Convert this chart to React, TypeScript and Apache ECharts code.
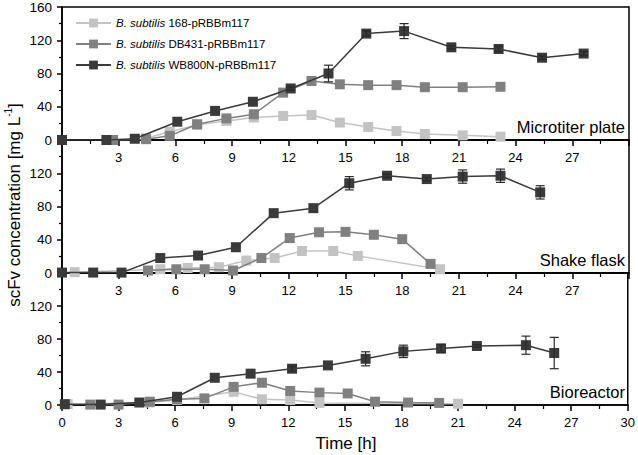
import React, { useEffect, useRef } from "react";
import * as echarts from "echarts";

const strainNames = ["168-pRBBm117", "DB431-pRBBm117", "WB800N-pRBBm117"];
const panelLabels = ["Microtiter plate", "Shake flask", "Bioreactor"];
const xTicks = [0, 3, 6, 9, 12, 15, 18, 21, 24, 27, 30];

// Microtiter plate
const mtp168T = [4.45, 5.7, 7.15, 8.7, 10.15, 11.7, 13.2, 14.7, 16.2, 17.7, 19.2, 21.2, 23.2];
const mtp168V = [2, 10, 18, 23, 27, 29, 30, 21, 15.6, 10.8, 7.2, 5.6, 4];
const mtpDBT = [2.7, 4.45, 5.7, 7.15, 8.7, 10.15, 11.7, 13.2, 14.7, 16.2, 17.7, 19.2, 21.2, 23.2];
const mtpDBV = [0, 1, 5, 19, 26, 31, 57, 71, 67, 66, 66, 63.5, 63.5, 64];
const mtpWBT = [0, 2.35, 3.85, 6.1, 8.1, 10.1, 12.1, 14.1, 16.1, 18.1, 20.6, 23.1, 25.4, 27.6];
const mtpWBV = [0, 0, 1.5, 22, 35, 46, 62, 80, 128, 131, 111.5, 109.5, 99, 104];
const mtpWBErr = [0, 0, 0, 0, 0, 0, 2, 10, 3, 9, 2, 3, 2, 2];

// Shake flask
const sf168T = [0.67, 5.2, 6.65, 8.3, 9.75, 11.25, 12.7, 14.35, 15.65, 20.0];
const sf168V = [1, 4.5, 6, 7, 15, 18, 26.5, 26.5, 20.6, 4.5];
const sfDBT = [4.55, 6.05, 7.55, 9.05, 10.55, 12.05, 13.6, 15.0, 16.5, 18.0, 19.5];
const sfDBV = [3, 4.5, 4.5, 3, 18, 42, 49, 49.5, 46, 40.7, 11];
const sfWBT = [0, 1.65, 3.15, 5.2, 7.2, 9.2, 11.2, 13.3, 15.2, 17.2, 19.3, 21.2, 23.2, 25.3];
const sfWBV = [0.5, 0.5, 0.5, 18, 21, 31, 72, 78, 108, 117, 113, 116, 117, 97];
const sfWBErr = [0, 0, 0, 0, 0, 0, 0, 0, 8, 2, 2, 8, 8, 8];

// Bioreactor
const br168T = [0.3, 4.65, 6.1, 9.1, 10.6, 12.1, 13.65, 21.0];
const br168V = [1, 3, 6, 16, 7, 6, 2.5, 1.5];
const brDBT = [1.5, 3.0, 4.65, 6.1, 7.55, 9.1, 10.6, 12.1, 13.65, 15.15, 16.6, 18.35, 20.0];
const brDBV = [0.5, 0.5, 4, 7, 8, 22, 27, 17, 15, 14, 4, 3, 2.5];
const brWBT = [0.15, 2.05, 4.1, 6.1, 8.1, 10.0, 12.2, 14.1, 16.1, 18.1, 20.1, 22.0, 24.6, 26.1];
const brWBV = [1, 0.5, 3, 10, 33, 38, 44, 48, 56, 65, 68.5, 71.5, 72.5, 63];
const brWBErr = [0, 0, 0, 0, 0, 0, 3, 0, 8.5, 7.5, 5, 1.5, 11, 19];

const colors = ["#c3c3c3", "#808080", "#3a3a3a"];
const FONT = "'Liberation Sans', Arial, sans-serif";

const panels = [
  { series: [[mtp168T, mtp168V], [mtpDBT, mtpDBV], [mtpWBT, mtpWBV]], err: mtpWBErr },
  { series: [[sf168T, sf168V], [sfDBT, sfDBV], [sfWBT, sfWBV]], err: sfWBErr },
  { series: [[br168T, br168V], [brDBT, brDBV], [brWBT, brWBV]], err: brWBErr },
];

const gridTops = [7, 140, 273];
const gridH = [133, 133, 132];

export default function App() {
  const ref = useRef<HTMLDivElement>(null);
  useEffect(() => {
    if (!ref.current) return;
    const chart = echarts.init(ref.current, undefined, { renderer: "svg" });

    const grids = gridTops.map((top, i) => ({
      left: 62,
      width: 567,
      top,
      height: gridH[i],
      show: true,
      borderColor: "#000",
      borderWidth: 1.5,
      backgroundColor: "transparent",
    }));

    const xAxes = gridTops.map((_, i) => ({
      type: "value",
      gridIndex: i,
      min: xTicks[0],
      max: xTicks[xTicks.length - 1],
      interval: 3,
      axisLine: { show: true, onZero: false, lineStyle: { color: "#000", width: 1.5 } },
      axisTick: { show: true, inside: false, length: 6, lineStyle: { color: "#000", width: 1.5 } },
      minorTick: { show: true, splitNumber: 2, length: 4, lineStyle: { color: "#000", width: 1.2 } },
      splitLine: { show: false },
      axisLabel: {
        show: true,
        margin: 11,
        fontSize: 13,
        color: "#000",
        fontFamily: FONT,
        formatter: (v: number) => (i < 2 && (v === 0 || v === 30) ? "" : String(v)),
      },
    }));

    const yAxes = gridTops.map((_, i) => ({
      type: "value",
      gridIndex: i,
      min: 0,
      max: 160,
      interval: 40,
      axisLine: { show: true, onZero: false, lineStyle: { color: "#000", width: 1.5 } },
      axisTick: { show: true, inside: false, length: 5, lineStyle: { color: "#000", width: 1.5 } },
      minorTick: { show: true, splitNumber: 2, length: 3, lineStyle: { color: "#000", width: 1.2 } },
      splitLine: { show: false },
      axisLabel: {
        margin: 10,
        fontSize: 13.5,
        color: "#000",
        fontFamily: FONT,
        formatter: (v: number) => (i > 0 && v === 160 ? "" : String(v)),
      },
    }));

    const series: any[] = [];
    panels.forEach((p, pi) => {
      p.series.forEach(([t, v], si) => {
        series.push({
          type: "line",
          name: strainNames[si],
          xAxisIndex: pi,
          yAxisIndex: pi,
          data: t.map((x, k) => [x, v[k]]),
          symbol: "rect",
          symbolSize: 10,
          itemStyle: { color: colors[si] },
          lineStyle: { color: colors[si], width: 1.5 },
          z: 3 + si,
        });
      });
      const [wt, wv] = p.series[2];
      const errData = wt
        .map((x, k) => [x, wv[k] - p.err[k], wv[k] + p.err[k], p.err[k]])
        .filter((d) => d[3] > 0);
      series.push({
        type: "custom",
        xAxisIndex: pi,
        yAxisIndex: pi,
        data: errData,
        encode: { x: 0, y: [1, 2] },
        z: 6,
        silent: true,
        renderItem: (params: any, api: any) => {
          const x = api.value(0);
          const p1 = api.coord([x, api.value(1)]);
          const p2 = api.coord([x, api.value(2)]);
          const w = 4.5;
          const st = { stroke: "#2a2a2a", lineWidth: 1.2 };
          return {
            type: "group",
            children: [
              { type: "line", shape: { x1: p1[0], y1: p1[1], x2: p2[0], y2: p2[1] }, style: st },
              { type: "line", shape: { x1: p1[0] - w, y1: p1[1], x2: p1[0] + w, y2: p1[1] }, style: st },
              { type: "line", shape: { x1: p2[0] - w, y1: p2[1], x2: p2[0] + w, y2: p2[1] }, style: st },
            ],
          };
        },
      });
    });

    const graphics: any[] = panelLabels.map((label, i) => ({
      type: "text",
      x: 625,
      y: gridTops[i] + gridH[i] - 13,
      style: {
        text: label,
        fontSize: 16.5,
        fontWeight: "normal",
        fontFamily: FONT,
        fill: "#000",
        align: "right",
        verticalAlign: "middle",
      },
    }));
    graphics.push({
      type: "text",
      x: 346,
      y: 443,
      style: {
        text: "Time [h]",
        fontSize: 17,
        fontWeight: "normal",
        fontFamily: FONT,
        fill: "#000",
        align: "center",
        verticalAlign: "middle",
      },
    });
    graphics.push({
      type: "text",
      x: 13,
      y: 205,
      rotation: Math.PI / 2,
      style: {
        text: "{a|scFv concentration [mg L}{s|-1}{a|]}",
        align: "center",
        verticalAlign: "middle",
        rich: {
          a: { fontSize: 17, fontWeight: "normal", fontFamily: FONT, fill: "#000", lineHeight: 20, verticalAlign: "bottom" },
          s: { fontSize: 10, fontWeight: "normal", fontFamily: FONT, fill: "#000", lineHeight: 20, verticalAlign: "top" },
        },
      },
    });

    chart.setOption({
      animation: false,
      backgroundColor: "#fff",
      grid: grids,
      xAxis: xAxes,
      yAxis: yAxes,
      legend: {
        data: strainNames,
        orient: "vertical",
        left: 70,
        top: 12,
        itemWidth: 35,
        itemHeight: 11,
        itemGap: 9,
        selectedMode: false,
        formatter: (name: string) => "{it|B. subtilis} " + name,
        textStyle: {
          fontSize: 11.5,
          fontFamily: FONT,
          color: "#000",
          rich: { it: { fontSize: 11.5, fontFamily: FONT, fontStyle: "italic", color: "#000" } },
        },
      },
      graphic: graphics,
      series,
    });
    return () => chart.dispose();
  }, []);
  return <div ref={ref} style={{ position: "fixed", left: 0, top: 0, width: 638, height: 455 }} />;
}
